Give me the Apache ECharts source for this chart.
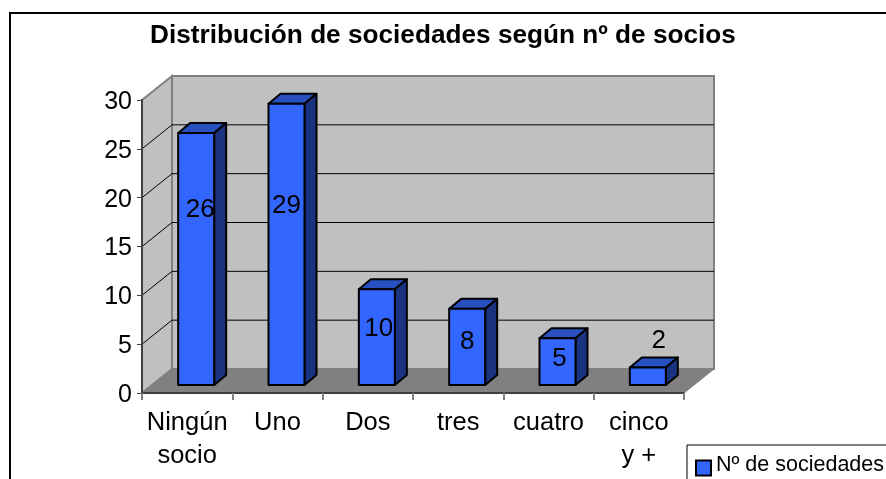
<!DOCTYPE html>
<html>
<head>
<meta charset="utf-8">
<style>
  html, body { margin: 0; padding: 0; background: #fff; }
  #main { width: 886px; height: 479px; }
</style>
<script src="https://cdn.jsdelivr.net/npm/echarts@6/dist/echarts.min.js"></script>
</head>
<body>
<div id="main"></div>
<script>
const categories = ['Ningún\nsocio', 'Uno', 'Dos', 'tres', 'cuatro', 'cinco\ny +']
const values = [26, 29, 10, 8, 5, 2]
const gridValues = [5, 10, 15, 20, 25]
const axisMax = 30

const FONT = '"Liberation Sans", Arial, sans-serif'
// depth of the fake 3d box
const WALL_DX = 30
const WALL_DY = 24
const BAR_DX = 12
const BAR_DY = 10
const BAR_W = 36
// where Excel left each label, relative to the middle/top of the bar
const labelShift = [[4, 77], [0, 102], [2, 39], [0, 33], [2, 21], [11, -27]]

const main = document.getElementById('main')
const myChart = echarts.init(main)

function renderWalls(params, api) {
  const band = api.size([1, 0])[0]
  const y0 = api.coord([0, 0])[1]
  const yTop = api.coord([0, axisMax])[1]
  const left = api.coord([0, 0])[0] - band / 2
  const right = left + band * categories.length
  const wallStyle = { fill: '#c0c0c0', stroke: '#808080', lineWidth: 2 }
  const children = [
    { type: 'polygon', shape: { points: [[left, yTop], [left + WALL_DX, yTop - WALL_DY], [left + WALL_DX, y0 - WALL_DY], [left, y0]] }, style: wallStyle },
    { type: 'polygon', shape: { points: [[left + WALL_DX, yTop - WALL_DY], [right + WALL_DX, yTop - WALL_DY], [right + WALL_DX, y0 - WALL_DY], [left + WALL_DX, y0 - WALL_DY]] }, style: wallStyle },
    { type: 'polygon', shape: { points: [[left, y0], [left + WALL_DX, y0 - WALL_DY], [right + WALL_DX, y0 - WALL_DY], [right, y0]] }, style: { fill: '#808080', stroke: '#808080', lineWidth: 1 } }
  ]
  gridValues.forEach(function (v) {
    const y = api.coord([0, v])[1]
    children.push({
      type: 'polyline',
      shape: { points: [[left, y], [left + WALL_DX, y - WALL_DY], [right + WALL_DX, y - WALL_DY]] },
      style: { fill: 'none', stroke: '#000', lineWidth: 1 }
    })
  })
  return { type: 'group', children: children }
}

function renderBar(params, api) {
  const i = api.value(0)
  const v = api.value(1)
  const c = api.coord([i, v])
  const xl = c[0] + 9 - BAR_W / 2
  const xr = xl + BAR_W
  const top = c[1] - 6
  const bottom = api.coord([i, 0])[1] - 8
  const border = { stroke: '#000', lineWidth: 2, lineJoin: 'round' }
  const shift = labelShift[params.dataIndex]
  return {
    type: 'group',
    children: [
      { type: 'polygon', shape: { points: [[xl, top], [xl + BAR_DX, top - BAR_DY], [xr + BAR_DX, top - BAR_DY], [xr, top]] }, style: Object.assign({ fill: '#2850c0' }, border) },
      { type: 'polygon', shape: { points: [[xr, top], [xr + BAR_DX, top - BAR_DY], [xr + BAR_DX, bottom - BAR_DY], [xr, bottom]] }, style: Object.assign({ fill: '#1a3380' }, border) },
      { type: 'rect', shape: { x: xl, y: top, width: BAR_W, height: bottom - top }, style: Object.assign({ fill: '#3366ff' }, border) },
      { type: 'text', x: xl + BAR_W / 2 + shift[0], y: top + shift[1], style: { text: String(v), fill: '#000', font: '26px ' + FONT, textAlign: 'center', textVerticalAlign: 'middle' } }
    ]
  }
}

myChart.setOption({
  animation: false,
  backgroundColor: '#fff',
  title: {
    text: 'Distribución de sociedades según nº de socios',
    left: 438,
    top: 18,
    textAlign: 'center',
    textStyle: { color: '#000', fontFamily: FONT, fontWeight: 'bold', fontSize: 26.2 }
  },
  legend: {
    data: ['Nº de sociedades'],
    left: 687,
    top: 445,
    padding: [9, 20, 12, 8],
    borderColor: '#000',
    borderWidth: 1,
    itemWidth: 15,
    itemHeight: 15,
    icon: 'rect',
    itemStyle: { color: '#3366ff', borderColor: '#000', borderWidth: 2 },
    formatter: '{t|{name}}',
    textStyle: {
      color: '#000',
      fontFamily: FONT,
      fontSize: 21.5,
      rich: { t: { color: '#000', fontFamily: FONT, fontSize: 21.5, padding: [0, 0, 6, 0] } }
    }
  },
  grid: { left: 142, right: 202, top: 100, bottom: 86 },
  xAxis: {
    type: 'category',
    data: categories,
    axisLine: { lineStyle: { color: '#404040', width: 2 } },
    axisTick: { show: true, length: 7, lineStyle: { color: '#808080', width: 2 } },
    axisLabel: { color: '#000', fontFamily: FONT, fontSize: 25.5, lineHeight: 33, margin: 13, interval: 0 },
    z: 5
  },
  yAxis: {
    type: 'value',
    min: 0,
    max: axisMax,
    interval: 5,
    axisLine: { show: true, lineStyle: { color: '#404040', width: 2 } },
    axisTick: { show: true, length: 5, lineStyle: { color: '#404040', width: 1 } },
    axisLabel: {
      color: '#000',
      fontFamily: FONT,
      fontSize: 25,
      margin: 10,
      formatter: '{v|{value}}',
      rich: { v: { color: '#000', fontFamily: FONT, fontSize: 25, padding: [4, 0, 0, 0] } }
    },
    splitLine: { show: false },
    z: 5
  },
  graphic: [{
    type: 'rect',
    shape: { x: 10, y: 13, width: 1000, height: 1000 },
    style: { fill: 'none', stroke: '#000', lineWidth: 2 },
    silent: true
  }],
  series: [{
    type: 'custom',
    name: 'walls',
    silent: true,
    z: 1,
    data: [[0, 0]],
    encode: { x: 0, y: 1 },
    renderItem: renderWalls
  }, {
    type: 'custom',
    name: 'Nº de sociedades',
    z: 2,
    itemStyle: { color: '#3366ff' },
    data: values.map(function (v, i) { return [i, v] }),
    encode: { x: 0, y: 1 },
    renderItem: renderBar
  }]
})
</script>
</body>
</html>
